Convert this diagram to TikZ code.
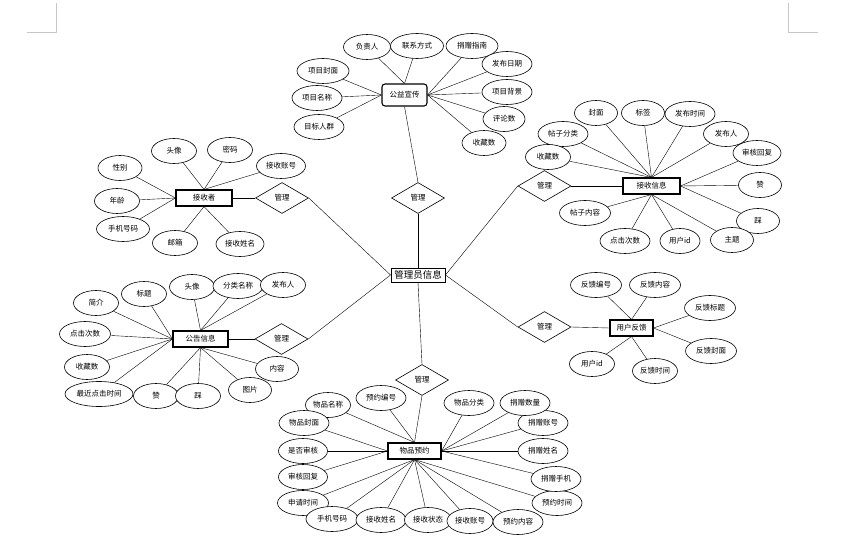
\documentclass[tikz,border=0pt]{standalone}
\usepackage{fontspec}
\setmainfont{Noto Sans CJK SC}
\usetikzlibrary{shapes.geometric,backgrounds}
\tikzset{
  attr/.style={draw, ellipse, fill=white, inner sep=0pt, line width=0.6pt,
    minimum width=#1, minimum height=25pt, font=\fontsize{7.5}{9}\selectfont},
  attr/.default=45pt,
  ent/.style={draw, rectangle, fill=white, inner sep=0pt, line width=1.1pt,
    minimum width=#1, minimum height=16pt, font=\fontsize{7.5}{9}\selectfont},
  rel/.style={draw, diamond, fill=white, inner sep=0pt, line width=0.6pt,
    minimum width=53pt, minimum height=31pt, font=\fontsize{7.5}{9}\selectfont},
  link/.style={line width=0.6pt},
  mark/.style={draw=black!22, line width=0.8pt}
}
\begin{document}
\begin{tikzpicture}[x=1pt,y=-1pt]
\useasboundingbox (0,0) rectangle (865,540);
% page corner marks
\draw[black!22, line width=0.8pt] (56,3) -- (56,32) -- (27,32);
\draw[black!22, line width=0.8pt] (788,3) -- (788,32) -- (818,32);

% centre
\node[draw, fill=white, inner sep=0pt, line width=0.9pt, minimum width=54pt, minimum height=14pt, font=\fontsize{9.5}{11}\selectfont] (admin) at (418,275) {管理员信息};

% public welfare
\node[ent=45pt, minimum height=22pt, rounded corners=3pt] (gy) at (404.5,95) {公益宣传};
\node[rel] (d1) at (418,198) {管理};
\node[attr=47pt] (gy1) at (367,47) {负责人};
\node[attr=53pt] (gy2) at (417,46) {联系方式};
\node[attr=52pt] (gy3) at (472,46) {捐赠指南};
\node[attr=50pt] (gy4) at (507,64) {发布日期};
\node[attr=50pt] (gy5) at (507,92) {项目背景};
\node[attr=42pt] (gy6) at (504,119) {评论数};
\node[attr=44pt] (gy7) at (484,143) {收藏数};
\node[attr=52pt] (gy8) at (323,71) {项目封面};
\node[attr=50pt] (gy9) at (317,98) {项目名称};
\node[attr=50pt] (gy10) at (319,127) {目标人群};

% forum info
\node[ent=57pt] (jx) at (651.5,186) {接收信息};
\node[rel] (d2) at (544.5,186) {管理};
\node[attr=43pt] (jx1) at (596,113) {封面};
\node[attr=43pt] (jx2) at (643,113) {标签};
\node[attr=50pt] (jx3) at (690,114) {发布时间};
\node[attr=45pt] (jx4) at (726,134) {发布人};
\node[attr=48pt] (jx5) at (757,153) {审核回复};
\node[attr=43pt] (jx6) at (760,185) {赞};
\node[attr=43pt] (jx7) at (758,221) {踩};
\node[attr=43pt] (jx8) at (732,240) {主题};
\node[attr=40pt] (jx9) at (680,241) {用户id};
\node[attr=50pt] (jx10) at (625,241) {点击次数};
\node[attr=51pt] (jx11) at (585,213) {帖子内容};
\node[attr=50pt] (jx12) at (563,134) {帖子分类};
\node[attr=45pt] (jx13) at (548,157) {收藏数};

% receiver
\node[ent=56pt] (js) at (204,198) {接收者};
\node[rel] (d3) at (282,198) {管理};
\node[attr] (js1) at (174,151) {头像};
\node[attr] (js2) at (230,150) {密码};
\node[attr=49pt] (js3) at (281,166) {接收账号};
\node[attr=44pt] (js4) at (120,168) {性别};
\node[attr] (js5) at (117,201) {年龄};
\node[attr=53pt] (js6) at (123,229) {手机号码};
\node[attr] (js7) at (175,243) {邮箱};
\node[attr=48pt] (js8) at (240,244) {接收姓名};

% notice
\node[ent=55pt] (gg) at (200.5,339) {公告信息};
\node[rel] (d4) at (281.5,339) {管理};
\node[attr] (gg1) at (96,303) {简介};
\node[attr] (gg2) at (144,294) {标题};
\node[attr] (gg3) at (192,287) {头像};
\node[attr=50pt] (gg4) at (238,286) {分类名称};
\node[attr] (gg5) at (283,285) {发布人};
\node[attr=51pt] (gg6) at (85,334) {点击次数};
\node[attr] (gg7) at (87,367) {收藏数};
\node[attr=68pt] (gg8) at (99,394) {最近点击时间};
\node[attr] (gg9) at (156,396) {赞};
\node[attr] (gg10) at (198,396) {踩};
\node[attr=43pt] (gg11) at (250,390) {图片};
\node[attr=43pt] (gg12) at (277,369) {内容};

% feedback
\node[ent=43pt] (fk) at (631.5,328) {用户反馈};
\node[rel] (d5) at (544.5,327) {管理};
\node[attr=51pt] (fk1) at (596,285) {反馈编号};
\node[attr=51pt] (fk2) at (655,285) {反馈内容};
\node[attr=51pt] (fk3) at (710,308) {反馈标题};
\node[attr=51pt] (fk4) at (711,351) {反馈封面};
\node[attr] (fk5) at (655,371) {反馈时间};
\node[attr] (fk6) at (592,364) {用户id};

% item booking
\node[ent=53pt] (wp) at (414.5,451) {物品预约};
\node[rel] (d6) at (422,380) {管理};
\node[attr] (wp1) at (328,405) {物品名称};
\node[attr=50pt] (wp2) at (381,398) {预约编号};
\node[attr=50pt] (wp3) at (304,423) {物品封面};
\node[attr=49pt] (wp4) at (303,451) {是否审核};
\node[attr=49pt] (wp5) at (303,477) {审核回复};
\node[attr=51pt] (wp6) at (303,503) {申请时间};
\node[attr=52pt] (wp7) at (332,519) {手机号码};
\node[attr=50pt] (wp8) at (381,520) {接收姓名};
\node[attr=47pt] (wp9) at (428,520) {接收状态};
\node[attr=46pt] (wp10) at (470,521) {接收账号};
\node[attr=50pt] (wp11) at (518,522) {预约内容};
\node[attr=50pt] (wp12) at (557,503) {预约时间};
\node[attr=50pt] (wp13) at (556,479) {捐赠手机};
\node[attr=50pt] (wp14) at (543,451) {捐赠姓名};
\node[attr=50pt] (wp15) at (543,423) {捐赠账号};
\node[attr=50pt] (wp16) at (525,403) {捐赠数量};
\node[attr=50pt] (wp17) at (469,403) {物品分类};

\begin{scope}[on background layer, link]
% relations
\draw (gy.south) -- (d1.north);
\draw (d1.south) -- (admin.north);
\draw (admin.east) -- (d2.west);
\draw (d2.east) -- (jx.west);
\draw (js.east) -- (d3.west);
\draw (d3.east) -- (admin.west);
\draw (gg.east) -- (d4.west);
\draw (d4.east) -- (admin.west);
\draw (admin.east) -- (d5.west);
\draw (d5.east) -- (fk.west);
\draw (admin.south) -- (d6.north);
\draw (d6.south) -- (wp.north);
% public welfare
\draw (gy.north) -- (gy1);
\draw (gy.north) -- (gy2);
\draw (gy.east) -- (gy3);
\draw (gy.east) -- (gy4);
\draw (gy.east) -- (gy5);
\draw (gy.east) -- (gy6);
\draw (gy.east) -- (gy7);
\draw (gy.west) -- (gy8);
\draw (gy.west) -- (gy9);
\draw (gy.west) -- (gy10);
% forum info
\draw (jx.north) -- (jx1);
\draw (jx.north) -- (jx2);
\draw (jx.north) -- (jx3);
\draw (jx.north) -- (jx4);
\draw (jx.east) -- (jx5);
\draw (jx.east) -- (jx6);
\draw (jx.east) -- (jx7);
\draw (jx.south) -- (jx8);
\draw (jx.south) -- (jx9);
\draw (jx.south) -- (jx10);
\draw (jx.south) -- (jx11);
\draw (jx.north) -- (jx12);
\draw (jx.north) -- (jx13);
% receiver
\draw (js.north) -- (js1);
\draw (js.north) -- (js2);
\draw (js.north) -- (js3);
\draw (js.west) -- (js4);
\draw (js.west) -- (js5);
\draw (js.west) -- (js6);
\draw (js.south) -- (js7);
\draw (js.south) -- (js8);
% notice
\draw (gg.west) -- (gg1);
\draw (gg.west) -- (gg2);
\draw (gg.north) -- (gg3);
\draw (gg.north) -- (gg4);
\draw (gg.north) -- (gg5);
\draw (gg.west) -- (gg6);
\draw (gg.west) -- (gg7);
\draw (gg.west) -- (gg8);
\draw (gg.south) -- (gg9);
\draw (gg.south) -- (gg10);
\draw (gg.south) -- (gg11);
\draw (gg.south) -- (gg12);
% feedback
\draw (fk.north) -- (fk1);
\draw (fk.north) -- (fk2);
\draw (fk.east) -- (fk3);
\draw (fk.east) -- (fk4);
\draw (fk.south) -- (fk5);
\draw (fk.south) -- (fk6);
% item booking
\draw (wp.north) -- (wp1);
\draw (wp.north) -- (wp2);
\draw (wp.west) -- (wp3);
\draw (wp.west) -- (wp4);
\draw (wp.west) -- (wp5);
\draw (wp.south) -- (wp6);
\draw (wp.south) -- (wp7);
\draw (wp.south) -- (wp8);
\draw (wp.south) -- (wp9);
\draw (wp.south) -- (wp10);
\draw (wp.south) -- (wp11);
\draw (wp.south) -- (wp12);
\draw (wp.east) -- (wp13);
\draw (wp.east) -- (wp14);
\draw (wp.east) -- (wp15);
\draw (wp.east) -- (wp16);
\draw (wp.east) -- (wp17);
\end{scope}
\end{tikzpicture}
\end{document}
